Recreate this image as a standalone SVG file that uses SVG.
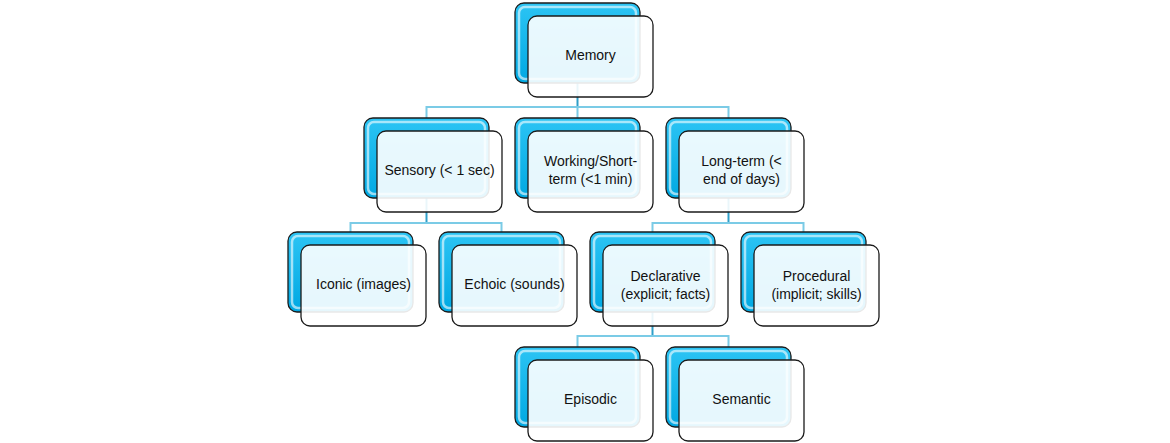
<svg xmlns="http://www.w3.org/2000/svg" width="1170" height="443" viewBox="0 0 1170 443">
<defs>
<linearGradient id="blue" x1="0" y1="0" x2="0" y2="1">
<stop offset="0" stop-color="#2cc4f4"/>
<stop offset="1" stop-color="#00a8e2"/>
</linearGradient>
<g id="node">
<rect class="back" x="0" y="0" width="125" height="80" rx="9"/>
<rect class="gloss" x="4" y="4" width="117" height="72" rx="6"/>
<rect class="front" x="13" y="13" width="125" height="81" rx="9"/>
</g>
</defs>
<style>
.back{fill:url(#blue);stroke:#1b1b1b;stroke-width:1.3}
.gloss{fill:none;stroke:#ffffff;stroke-opacity:0.6;stroke-width:2.5}
.front{fill:#ffffff;fill-opacity:0.9;stroke:#1b1b1b;stroke-width:1.3}
.lbl{font-family:"Liberation Sans",Arial,sans-serif;font-size:14px;fill:#111111;text-anchor:middle}
.c{fill:none;stroke:#7bcbe6;stroke-width:2}
.cv{fill:none;stroke:#2f9fc9;stroke-width:2}
</style>
<g id="connectors">
<path class="cv" d="M577.5 83V107"/>
<path class="c" d="M426.5 118V107H728.5V118M577.5 107V118"/>
<path class="cv" d="M426.5 198V223"/>
<path class="c" d="M350.5 232V223H501.5V232"/>
<path class="cv" d="M728.5 198V223"/>
<path class="c" d="M652.5 232V223H803.5V232"/>
<path class="cv" d="M652.5 312V336"/>
<path class="c" d="M577.5 347V336H728.5V347"/>
</g>
<g id="memory"><use href="#node" x="515" y="3"/><text class="lbl" x="590.5" y="60">Memory</text></g>
<g id="sensory"><use href="#node" x="364" y="118"/><text class="lbl" x="439.5" y="175">Sensory (&lt; 1 sec)</text></g>
<g id="working"><use href="#node" x="515" y="118"/><text class="lbl" x="590.5" y="166">Working/Short-</text><text class="lbl" x="590.5" y="184">term (&lt;1 min)</text></g>
<g id="longterm"><use href="#node" x="666" y="118"/><text class="lbl" x="741.5" y="166">Long-term (&lt;</text><text class="lbl" x="741.5" y="184">end of days)</text></g>
<g id="iconic"><use href="#node" x="288" y="232"/><text class="lbl" x="363.5" y="289">Iconic (images)</text></g>
<g id="echoic"><use href="#node" x="439" y="232"/><text class="lbl" x="514.5" y="289">Echoic (sounds)</text></g>
<g id="declarative"><use href="#node" x="590" y="232"/><text class="lbl" x="665.5" y="281">Declarative</text><text class="lbl" x="665.5" y="299">(explicit; facts)</text></g>
<g id="procedural"><use href="#node" x="741" y="232"/><text class="lbl" x="816.5" y="281">Procedural</text><text class="lbl" x="816.5" y="299">(implicit; skills)</text></g>
<g id="episodic"><use href="#node" x="515" y="347"/><text class="lbl" x="590.5" y="404">Episodic</text></g>
<g id="semantic"><use href="#node" x="666" y="347"/><text class="lbl" x="741.5" y="404">Semantic</text></g>
</svg>
